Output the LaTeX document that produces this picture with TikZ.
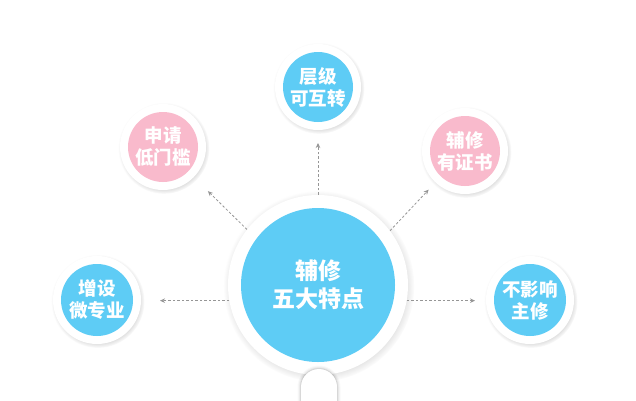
\documentclass[tikz,border=0pt]{standalone}
\usepackage{fontspec}
\newfontfamily\cjk{Noto Sans CJK SC}
\usetikzlibrary{shadows,arrows.meta}
\definecolor{cblue}{RGB}{94,204,245}
\definecolor{cpink}{RGB}{249,186,204}
\definecolor{cline}{RGB}{150,150,150}
\tikzset{
  ring/.style={circle, fill=white, inner sep=0pt,
    circular drop shadow={shadow xshift=0.8pt, shadow yshift=-1.2pt, shadow scale=1.06, opacity=0.35}},
  disc/.style={circle, inner sep=0pt, text=white, align=center},
  smalltext/.style={font=\cjk\bfseries\fontsize{18.5}{22}\selectfont},
  bigtext/.style={font=\cjk\bfseries\fontsize{23}{28}\selectfont},
  conn/.style={draw=cline, line width=0.8pt, dash pattern=on 2.5pt off 2pt,
    -{Stealth[length=5pt,width=4.5pt]}},
  stemshade/.style={draw=black, line join=round},
}
\begin{document}
\begin{tikzpicture}[x=1pt,y=-1pt]
\useasboundingbox[fill=white] (0,0) rectangle (636,400);
% small circles
\node[ring, minimum size=86pt] (t) at (318,87) {};
\node[disc, smalltext, fill=cblue, minimum size=70pt] (ti) at (t) {层级\\可互转};
\node[ring, minimum size=86pt] (ul) at (163,147) {};
\node[disc, smalltext, fill=cpink, minimum size=70pt] (uli) at (ul) {申请\\低门槛};
\node[ring, minimum size=86pt] (ur) at (465,151) {};
\node[disc, smalltext, fill=cpink, minimum size=70pt] (uri) at (ur) {辅修\\有证书};
\node[ring, minimum size=88pt] (l) at (97,300) {};
\node[disc, smalltext, fill=cblue, minimum size=72pt] (li) at (l) {增设\\微专业};
\node[ring, minimum size=88pt] (r) at (530,300) {};
\node[disc, smalltext, fill=cblue, minimum size=72pt] (ri) at (r) {不影响\\主修};
% central
\node[ring, minimum size=180pt] (c) at (318,285) {};
\foreach \w/\o in {7/0.025,5/0.035,3/0.05,1.5/0.07}{
  \draw[stemshade, line width=\w pt, opacity=\o]
    (301,405) -- (301,387) arc[start angle=180, end angle=0, radius=18pt] -- (337,405);
}
\path[fill=white]
  (301,405) -- (301,387) arc[start angle=180, end angle=0, radius=18pt] -- (337,405) -- cycle;
\node[disc, bigtext, fill=cblue, minimum size=154pt] (ci) at (c) {辅修\\五大特点};
% connectors
\draw[conn, shorten >=56pt] (c.90) -- (t.center);
\draw[conn, shorten >=63pt] (c.142.5) -- (ul.center);
\draw[conn, shorten >=53pt] (c.37.4) -- (ur.center);
\draw[conn, shorten >=63pt] (c.190) -- (c.190 -| l.center);
\draw[conn, shorten >=55pt] (c.-10) -- (c.-10 -| r.center);
\end{tikzpicture}
\end{document}
